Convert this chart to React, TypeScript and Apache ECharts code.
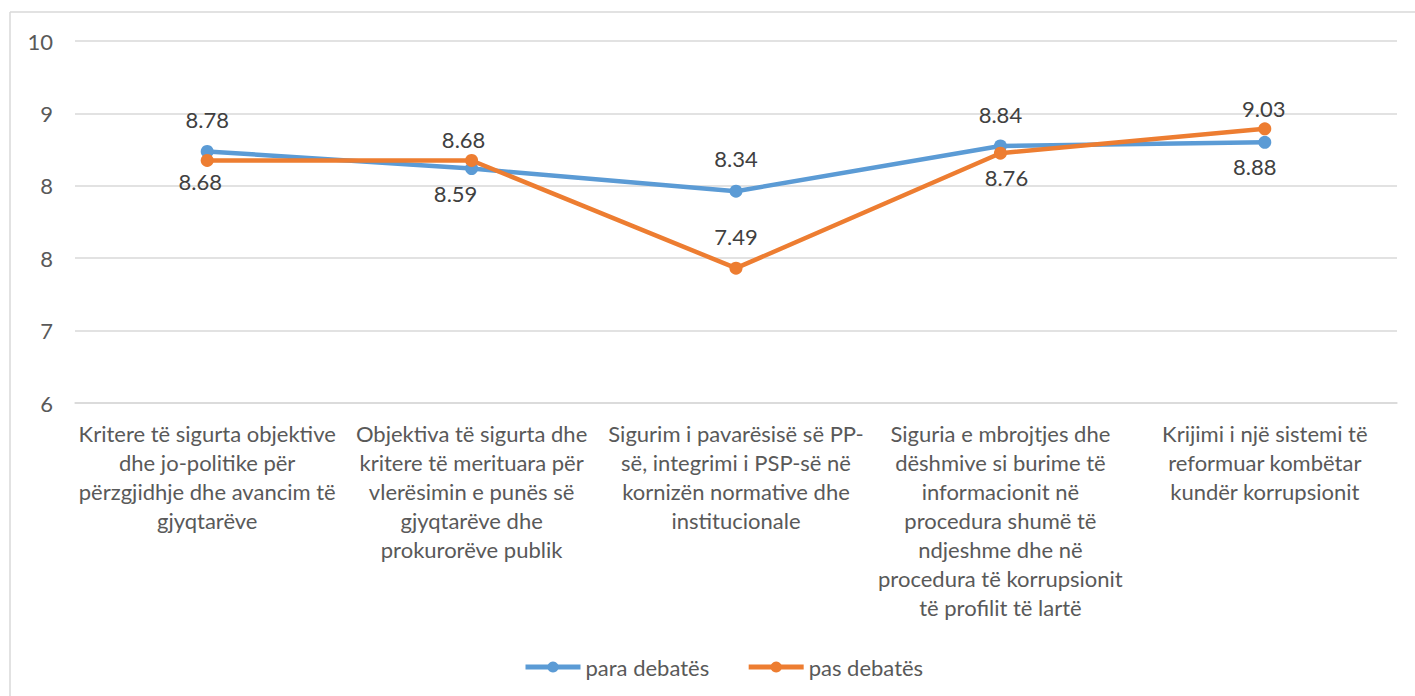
import React, { useEffect, useRef } from "react";
import * as echarts from "echarts";

const categories = [
  "Kritere të sigurta objektive\ndhe jo-politike për\npërzgjidhje dhe avancim të\ngjyqtarëve",
  "Objektiva të sigurta dhe\nkritere të merituara për\nvlerësimin e punës së\ngjyqtarëve dhe\nprokurorëve publik",
  "Sigurim i pavarësisë së PP-\nsë, integrimi i PSP-së në\nkornizën normative dhe\ninstitucionale",
  "Siguria e mbrojtjes dhe\ndëshmive si burime të\ninformacionit në\nprocedura shumë të\nndjeshme dhe në\nprocedura të korrupsionit\ntë profilit të lartë",
  "Krijimi i një sistemi të\nreformuar kombëtar\nkundër korrupsionit",
];

const seriesNames = ["para debatës", "pas debatës"];
const paraValues = [8.78, 8.59, 8.34, 8.84, 8.88];
const pasValues = [8.68, 8.68, 7.49, 8.76, 9.03];

const yMin = 6;
const yMax = 10;
const yInterval = 0.8;

// label placement: [position, distance, dx]
const paraLabelPlace: [string, number, number][] = [
  ["top", 14, 0],
  ["bottom", 7.5, -16],
  ["top", 15, 0],
  ["top", 13.5, 0],
  ["bottom", 6.5, -10],
];
const pasLabelPlace: [string, number, number][] = [
  ["bottom", 3.5, -7],
  ["top", 3, -8],
  ["top", 14.5, 0],
  ["bottom", 6.5, 6],
  ["top", 2.5, -1],
];

const FONT = "Lato";
const BLUE = "#5B9BD5";
const ORANGE = "#ED7D31";

function makeSeries(name: string, values: number[], place: [string, number, number][], color: string) {
  return {
    type: "line",
    name,
    data: values.map((v, i) => ({
      value: v,
      label: { position: place[i][0], distance: place[i][1], offset: [place[i][2], 0] },
    })),
    symbol: "circle",
    symbolSize: 13,
    lineStyle: { width: 4.5, color },
    itemStyle: { color },
    label: {
      show: true,
      fontSize: 22,
      lineHeight: 22,
      color: "#404040",
      fontFamily: FONT,
      formatter: (p: any) => Number(p.value).toFixed(2),
    },
  };
}

export default function App() {
  const ref = useRef<HTMLDivElement>(null);
  useEffect(() => {
    if (!ref.current) return;
    const chart = echarts.init(ref.current, undefined, { renderer: "svg" });
    chart.setOption({
      animation: false,
      backgroundColor: "#ffffff",
      textStyle: { fontFamily: FONT },
      graphic: [
        { type: "line", shape: { x1: 10, y1: 12, x2: 10, y2: 700 }, style: { stroke: "#d9d9d9", lineWidth: 1.5 } },
        { type: "line", shape: { x1: 10, y1: 12, x2: 1420, y2: 12 }, style: { stroke: "#d9d9d9", lineWidth: 1.5 } },
      ],
      grid: { left: 75, right: 18, top: 41, bottom: 293 },
      legend: {
        data: seriesNames,
        left: 518,
        top: 651,
        itemWidth: 55,
        itemHeight: 14,
        itemGap: 37,
        lineStyle: { width: 5 },
        textStyle: { fontSize: 22, color: "#595959", fontFamily: FONT },
      },
      xAxis: {
        type: "category",
        data: categories,
        boundaryGap: true,
        axisLine: { lineStyle: { color: "#d9d9d9", width: 1.5 } },
        axisTick: { show: false },
        axisLabel: {
          interval: 0,
          fontSize: 22,
          lineHeight: 29,
          color: "#595959",
          fontFamily: FONT,
          margin: 16,
        },
      },
      yAxis: {
        type: "value",
        min: yMin,
        max: yMax,
        interval: yInterval,
        axisLine: { show: false },
        axisTick: { show: false },
        axisLabel: {
          fontSize: 22,
          color: "#595959",
          fontFamily: FONT,
          margin: 22,
          formatter: (v: number) => String(Math.round(v)),
        },
        splitLine: { lineStyle: { color: "#d9d9d9", width: 1.5 } },
      },
      series: [
        makeSeries(seriesNames[0], paraValues, paraLabelPlace, BLUE),
        makeSeries(seriesNames[1], pasValues, pasLabelPlace, ORANGE),
      ],
    });
    return () => chart.dispose();
  }, []);
  return (
    <div
      ref={ref}
      style={{ position: "fixed", left: 0, top: 0, width: 1415, height: 696, background: "#fff" }}
    />
  );
}
